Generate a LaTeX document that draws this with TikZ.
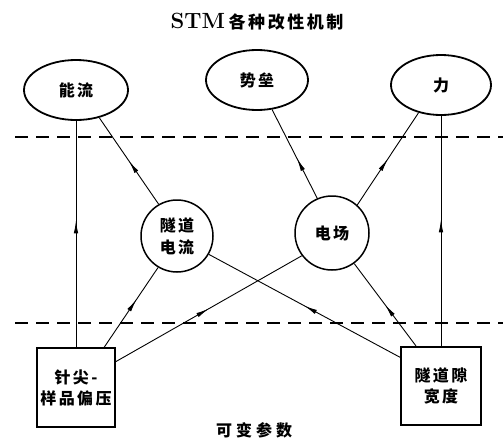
\documentclass[tikz,border=0pt]{standalone}
\usepackage{fontspec}
\usetikzlibrary{shapes.geometric,decorations.markings,arrows.meta}
\newfontfamily\cjk[LetterSpace=15]{Noto Sans CJK SC}
\newfontfamily\cjkw[LetterSpace=25]{Noto Sans CJK SC}
\begin{document}
\begin{tikzpicture}[x=1pt,y=-1pt,
  oval/.style={draw,ellipse,line width=1.8pt,inner sep=0pt,font=\cjk\bfseries\fontsize{16}{18}\selectfont},
  mech/.style={draw,circle,line width=1.5pt,inner sep=0pt,align=center,font=\cjk\bfseries\fontsize{16}{22}\selectfont},
  param/.style={draw,rectangle,line width=1.8pt,inner sep=0pt,align=center,font=\cjk\bfseries\fontsize{16}{21}\selectfont},
  lab/.style={font=\cjkw\bfseries\fontsize{16}{18}\selectfont},
  flow/.style={line width=0.9pt,postaction={decorate},
    decoration={markings,mark=at position #1 with {\arrow{Latex[length=13pt,width=4.5pt]}}}},
  flow/.default=0.5,
  sep/.style={line width=2.2pt,dash pattern=on 13pt off 8pt}
]
\useasboundingbox (0,0) rectangle (503,442);

\node (title) at (257,22) {\fontsize{22}{22}\selectfont\textbf{STM}\,{\cjk\bfseries\fontsize{17}{20}\selectfont 各种改性机制}};

\node[oval,minimum width=104pt,minimum height=60pt] (nl) at (76,90) {能流};
\node[oval,minimum width=102pt,minimum height=60pt] (sl) at (257,80) {势垒};
\node[oval,minimum width=100pt,minimum height=60pt] (li) at (441,85) {力};

\node[mech,minimum size=72pt] (sd) at (177,236) {隧道\\电流};
\node[mech,minimum size=74pt] (df) at (332,233) {电场};

\node[param,minimum width=78pt,minimum height=79pt] (lb) at (76,387.5) {针尖-\\样品偏压};
\node[param,line width=2.2pt,minimum width=80pt,minimum height=78pt] (rb) at (441,386) {隧道隙\\宽度};

\node[lab] (bt) at (254,430) {可变参数};

\coordinate (d1a) at (15,137);
\coordinate (d1b) at (503,137);
\coordinate (d2a) at (15,323);
\coordinate (d2b) at (503,323);
\draw[sep] (d1a) -- (d1b);
\draw[sep] (d2a) -- (d2b);

% mechanisms -> effects
\draw[flow] (sd.120) -- (nl.-50);
\draw[flow=0.45] (df.113) -- (sl.-63);
\draw[flow] (df.48) -- (li.-129);

% parameters -> mechanisms
\draw[flow=0.56] (lb.north) -- (nl.south);
\draw[flow=0.55] (rb.north) -- (li.south);
\draw[flow=0.6] (lb.55.6) -- (sd.-121);
\draw[flow=0.5] (lb.33) -- (df.-143);
\draw[flow=0.5] (rb.145) -- (sd.-30);
\draw[flow=0.5] (rb.122) -- (df.-54);
\end{tikzpicture}
\end{document}
